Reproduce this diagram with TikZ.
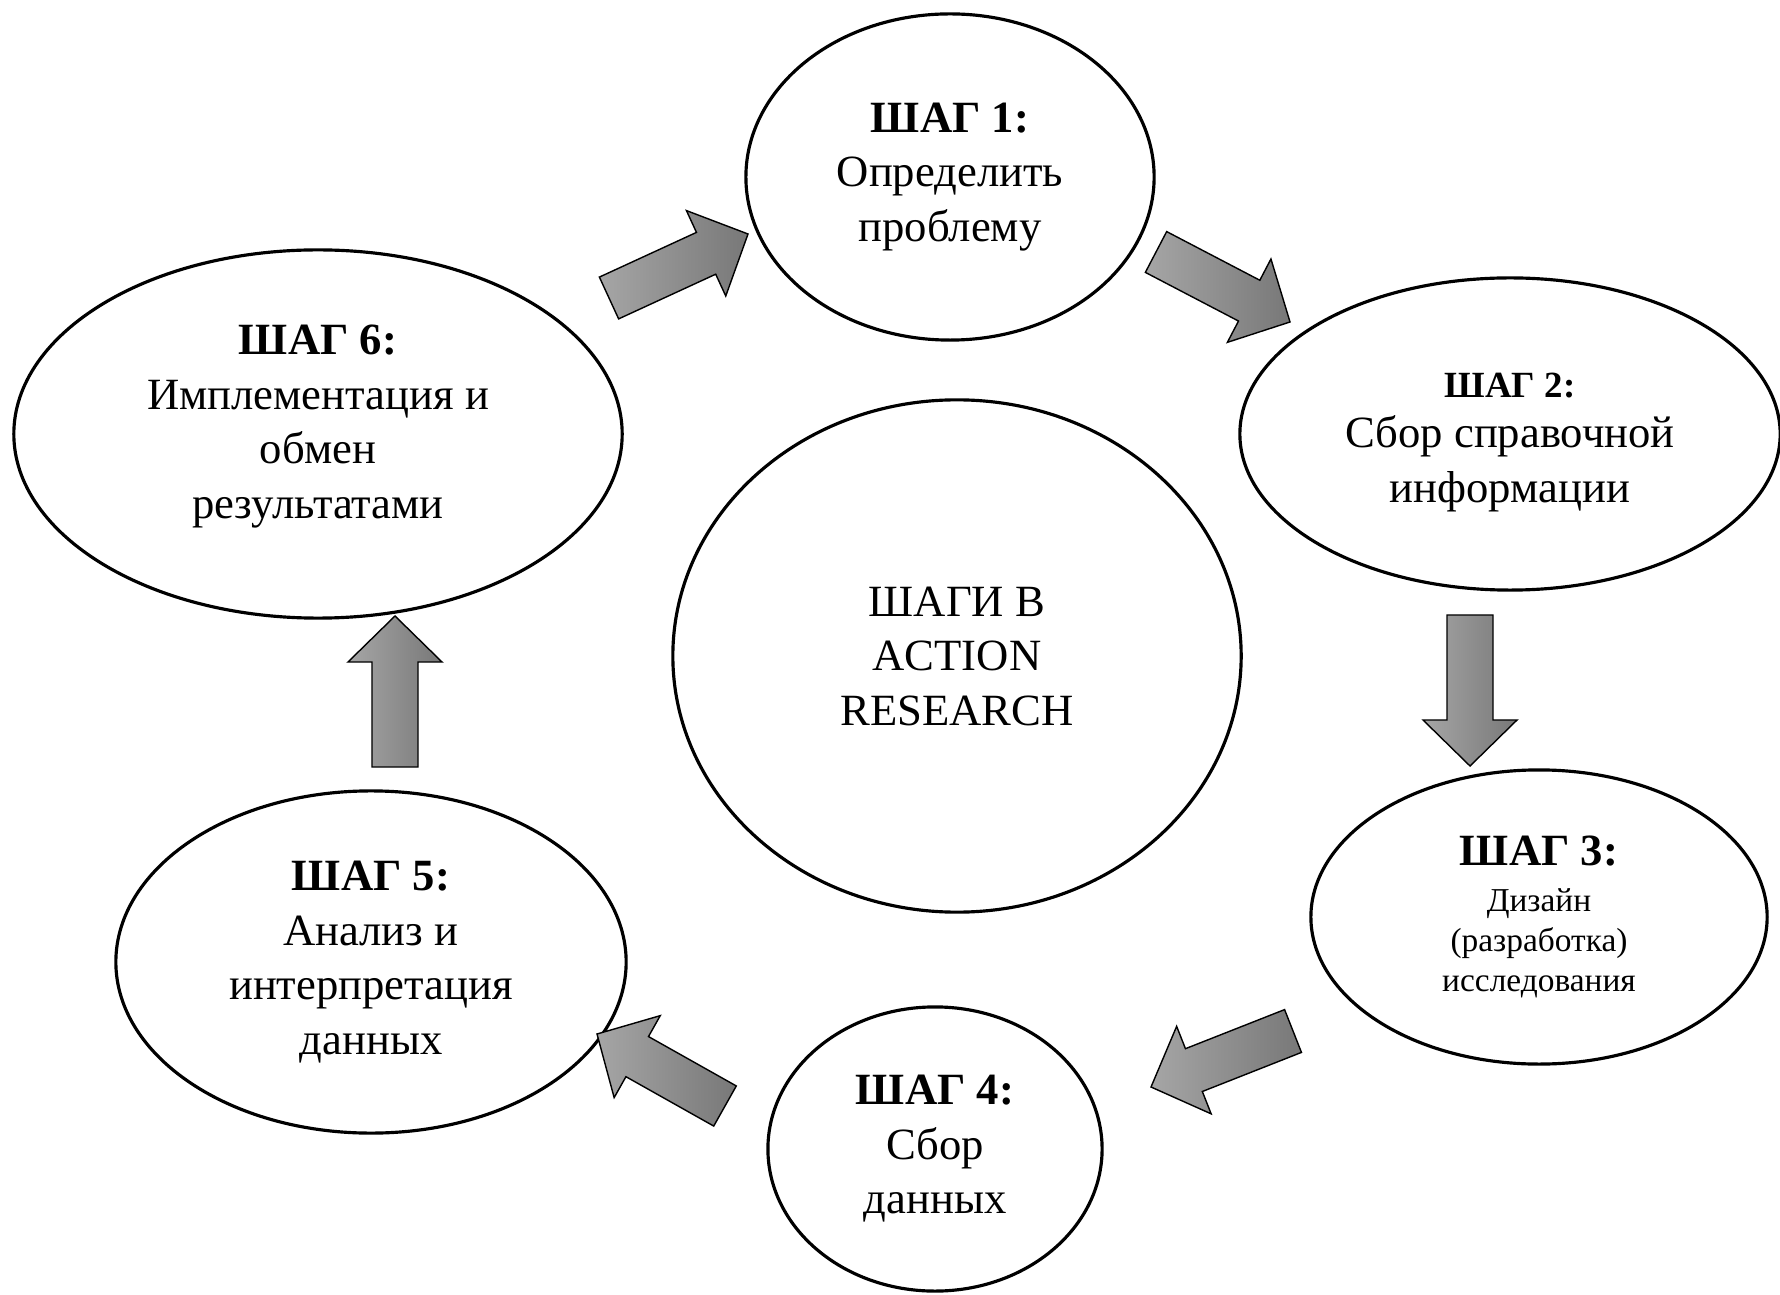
\documentclass[tikz,border=0pt]{standalone}
\usepackage{fontspec}
\setmainfont{Liberation Serif}
\usetikzlibrary{shapes.geometric,calc}

\newcommand\shaftw{0.23cm}
\newcommand\headw{0.47cm}
\newcommand\headl{0.46cm}

% block arrow from #1 (tail) to #2 (tip)
\newcommand\blockarrow[2]{%
  \path[arrowfill] let \p1=($(#2)-(#1)$), \n1={atan2(\y1,\x1)}, \n2={veclen(\x1,\y1)-\headl} in
    ($(#1)+(\n1+90:\shaftw)$)
    -- ($(#1)+(\n1:\n2)+(\n1+90:\shaftw)$)
    -- ($(#1)+(\n1:\n2)+(\n1+90:\headw)$)
    -- (#2)
    -- ($(#1)+(\n1:\n2)+(\n1-90:\headw)$)
    -- ($(#1)+(\n1:\n2)+(\n1-90:\shaftw)$)
    -- ($(#1)+(\n1-90:\shaftw)$) -- cycle;}

\begin{document}
\begin{tikzpicture}[x=0.01cm, y=-0.01cm,
  stepnode/.style={draw, ellipse, line width=0.9pt, inner sep=0pt, align=center,
    font=\fontsize{12.7}{15.5}\selectfont},
  arrowfill/.style={draw, line width=0.4pt, left color=black!35, right color=black!53}]

\useasboundingbox (0,0) rectangle (1780,1295);

% steps
\node[stepnode, minimum width=4.08cm, minimum height=3.26cm] (s1) at (950,177)
  {\textbf{ШАГ 1:}\\Определить\\проблему};
\node[stepnode, minimum width=5.40cm, minimum height=3.12cm, text height=41.5pt] (s2) at (1510,434)
  {{\fontsize{10.5}{12}\selectfont\textbf{ШАГ 2:}}\\[-1.2pt]Сбор справочной\\информации};
\node[stepnode, minimum width=4.56cm, minimum height=2.94cm,
  font=\fontsize{9.5}{11.3}\selectfont] (s3) at (1539,917)
  {{\fontsize{12.7}{15}\selectfont\textbf{ШАГ 3:}}\\[1.7pt]Дизайн\\(разработка)\\исследования};
\node[stepnode, minimum width=3.34cm, minimum height=2.84cm] (s4) at (935,1149)
  {\textbf{ШАГ 4:}\\Сбор\\данных};
\node[stepnode, minimum width=5.10cm, minimum height=3.42cm] (s5) at (371,962)
  {\textbf{ШАГ 5:}\\Анализ и\\интерпретация\\данных};
\node[stepnode, minimum width=6.08cm, minimum height=3.68cm, text depth=6.9pt] (s6) at (318,434)
  {\textbf{ШАГ 6:}\\Имплементация и\\обмен\\результатами};

% centre
\node[stepnode, minimum width=5.68cm, minimum height=5.12cm] (mid) at (957,656)
  {ШАГИ В\\ACTION\\RESEARCH};

% arrows
\coordinate (a61-s) at (609,298);
\coordinate (a61-e) at (748,234);
\coordinate (a12-s) at (1156,252);
\coordinate (a12-e) at (1290,322);
\coordinate (a23-s) at (1470,615);
\coordinate (a23-e) at (1470,766);
\coordinate (a34-s) at (1293,1031);
\coordinate (a34-e) at (1151,1087);
\coordinate (a45-s) at (725,1106);
\coordinate (a45-e) at (597,1034);
\coordinate (a56-s) at (395,767);
\coordinate (a56-e) at (395,616);

\blockarrow{a61-s}{a61-e}
\blockarrow{a12-s}{a12-e}
\blockarrow{a23-s}{a23-e}
\blockarrow{a34-s}{a34-e}
\blockarrow{a45-s}{a45-e}
\blockarrow{a56-s}{a56-e}

\end{tikzpicture}
\end{document}
